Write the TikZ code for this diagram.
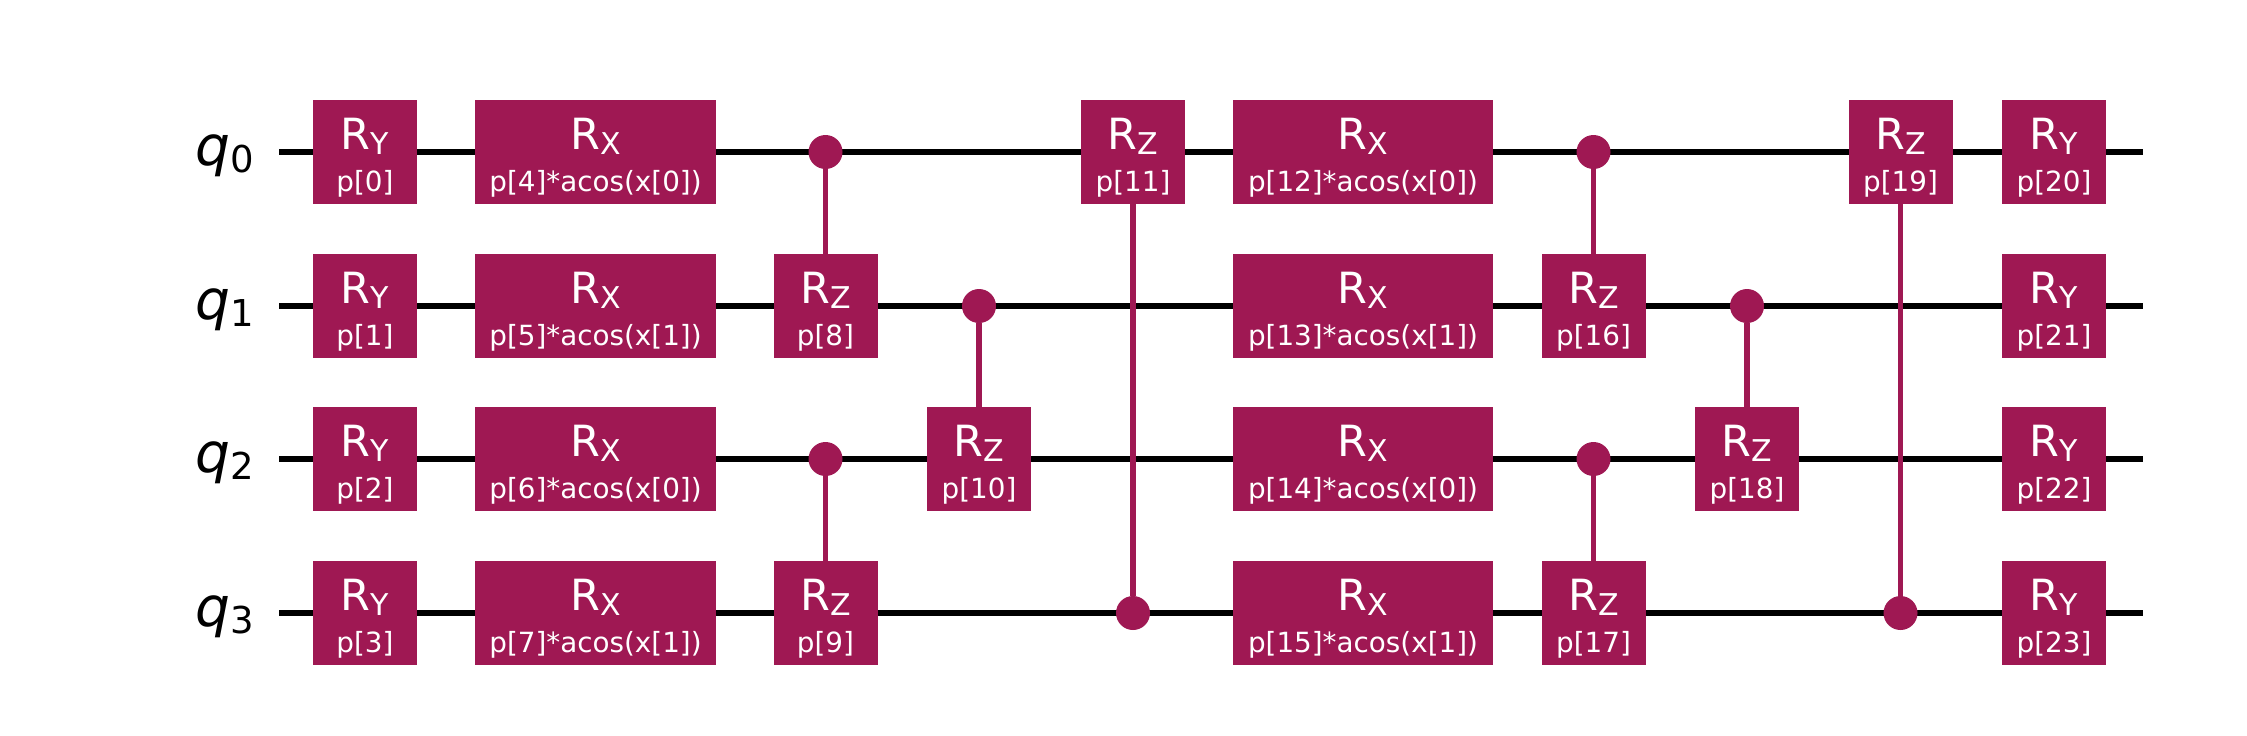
\documentclass[tikz,border=0pt]{standalone}
\usepackage{fontspec}
\usepackage{xcolor}
\setmainfont{DejaVu Sans}
\definecolor{gatered}{HTML}{9F1853}
\newcommand{\rgate}[2]{%
  \makebox[0pt]{\raisebox{1.05pt}[0pt][0pt]{\fontsize{21.5}{21.5}\selectfont R\raisebox{-2.5pt}{\fontsize{15}{15}\selectfont #1}}}%
  \makebox[0pt]{\raisebox{-19.7pt}[0pt][0pt]{\fontsize{13.9}{13.9}\selectfont #2}}}
\newcommand{\qlabel}[1]{\fontsize{27.5}{27.5}\selectfont\itshape q\raisebox{-3.8pt}{\fontsize{18.5}{18.5}\selectfont\upshape #1}}

\begin{document}
\begin{tikzpicture}[x=0.5pt,y=-0.5pt,
    wire/.style={line width=3pt,black},
    link/.style={line width=2.8pt,gatered},
    gate/.style={
      rectangle,
      fill=gatered,
      text=white,
      inner sep=0pt,
      minimum width=52pt,
      minimum height=52pt
    },
    wide/.style={gate,minimum width=120.5pt},
    wider/.style={gate,minimum width=130pt},
    ctrl/.style={circle,fill=gatered,inner sep=0pt,minimum size=17pt},
    reg/.style={anchor=base east,inner sep=0pt}]
  \useasboundingbox (0,0) rectangle (2247,735);
  % wires
  \coordinate (w0) at (279,152);
  \coordinate (e0) at (2142.5,152);
  \coordinate (w1) at (279,306);
  \coordinate (e1) at (2142.5,306);
  \coordinate (w2) at (279,459);
  \coordinate (e2) at (2142.5,459);
  \coordinate (w3) at (279,613);
  \coordinate (e3) at (2142.5,613);
  \draw[wire] (w0) -- (e0);
  \draw[wire] (w1) -- (e1);
  \draw[wire] (w2) -- (e2);
  \draw[wire] (w3) -- (e3);
  % register labels
  \node[reg] (q0) at (254,165) {\qlabel{0}};
  \node[reg] (q1) at (254,319) {\qlabel{1}};
  \node[reg] (q2) at (254,472) {\qlabel{2}};
  \node[reg] (q3) at (254,626) {\qlabel{3}};
  % first layer
  \node[gate] (p0) at (365,152) {\rgate{Y}{p[0]}};
  \node[gate] (p1) at (365,306) {\rgate{Y}{p[1]}};
  \node[gate] (p2) at (365,459) {\rgate{Y}{p[2]}};
  \node[gate] (p3) at (365,613) {\rgate{Y}{p[3]}};
  \node[wide] (p4) at (595.5,152) {\rgate{X}{p[4]*acos(x[0])}};
  \node[wide] (p5) at (595.5,306) {\rgate{X}{p[5]*acos(x[1])}};
  \node[wide] (p6) at (595.5,459) {\rgate{X}{p[6]*acos(x[0])}};
  \node[wide] (p7) at (595.5,613) {\rgate{X}{p[7]*acos(x[1])}};
  % entangling
  \node[ctrl] (c8) at (825.5,152) {};
  \node[gate] (p8) at (825.5,306) {\rgate{Z}{p[8]}};
  \node[ctrl] (c9) at (825.5,459) {};
  \node[gate] (p9) at (825.5,613) {\rgate{Z}{p[9]}};
  \node[ctrl] (c10) at (979,306) {};
  \node[gate] (p10) at (979,459) {\rgate{Z}{p[10]}};
  \node[gate] (p11) at (1133,152) {\rgate{Z}{p[11]}};
  \node[ctrl] (c11) at (1133,613) {};
  \draw[link] (c8) -- (p8);
  \draw[link] (c9) -- (p9);
  \draw[link] (c10) -- (p10);
  \draw[link] (c11) -- (p11);
  % second layer
  \node[wider] (p12) at (1363,152) {\rgate{X}{p[12]*acos(x[0])}};
  \node[wider] (p13) at (1363,306) {\rgate{X}{p[13]*acos(x[1])}};
  \node[wider] (p14) at (1363,459) {\rgate{X}{p[14]*acos(x[0])}};
  \node[wider] (p15) at (1363,613) {\rgate{X}{p[15]*acos(x[1])}};
  % entangling
  \node[ctrl] (c16) at (1593.5,152) {};
  \node[gate] (p16) at (1593.5,306) {\rgate{Z}{p[16]}};
  \node[ctrl] (c17) at (1593.5,459) {};
  \node[gate] (p17) at (1593.5,613) {\rgate{Z}{p[17]}};
  \node[ctrl] (c18) at (1747,306) {};
  \node[gate] (p18) at (1747,459) {\rgate{Z}{p[18]}};
  \node[gate] (p19) at (1900.5,152) {\rgate{Z}{p[19]}};
  \node[ctrl] (c19) at (1900.5,613) {};
  \draw[link] (c16) -- (p16);
  \draw[link] (c17) -- (p17);
  \draw[link] (c18) -- (p18);
  \draw[link] (c19) -- (p19);
  % last layer
  \node[gate] (p20) at (2054,152) {\rgate{Y}{p[20]}};
  \node[gate] (p21) at (2054,306) {\rgate{Y}{p[21]}};
  \node[gate] (p22) at (2054,459) {\rgate{Y}{p[22]}};
  \node[gate] (p23) at (2054,613) {\rgate{Y}{p[23]}};
\end{tikzpicture}
\end{document}
